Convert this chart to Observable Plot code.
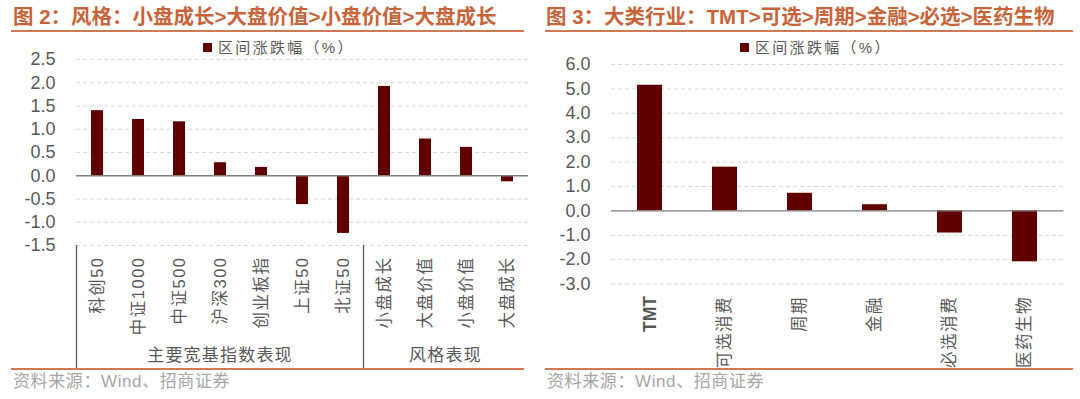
<!DOCTYPE html>
<html><head><meta charset="utf-8">
<script src="https://cdn.jsdelivr.net/npm/d3@7"></script>
<script src="https://cdn.jsdelivr.net/npm/@observablehq/plot@0.6"></script>
<style>
body{margin:0;background:#fff;}
#page{position:relative;width:1080px;height:399px;overflow:hidden;font-family:"Liberation Sans","Noto Sans CJK SC",sans-serif;background:#fff;}
.title{position:absolute;top:4px;font-size:20.5px;font-weight:bold;color:#C8643A;white-space:nowrap;line-height:26px;}
.uline{position:absolute;height:2px;background:#D07A55;}
.legend{position:absolute;top:39px;font-size:15px;color:#595959;letter-spacing:2.3px;white-space:nowrap;line-height:18px;}
.legend .sw{position:absolute;width:9px;height:9px;background:#600000;}
.src{position:absolute;top:372px;font-size:17px;color:#A6A6A6;white-space:nowrap;line-height:20px;letter-spacing:0.6px;}
.plot{position:absolute;}
</style></head>
<body>
<div id="page">
  <div class="title" style="left:13px;">图 2：风格：小盘成长&gt;大盘价值&gt;小盘价值&gt;大盘成长</div>
  <div class="uline" style="left:11px;width:513px;top:30px;"></div>
  <div class="legend" style="left:218px;"><span class="sw" style="left:-15px;top:4px;"></span>区间涨跌幅（%）</div>
  <div class="plot" id="left" style="left:0px;top:50px;"></div>
  <div class="uline" style="left:11px;width:513px;top:368px;"></div>
  <div class="src" style="left:13px;">资料来源：Wind、招商证券</div>

  <div class="title" style="left:546px;">图 3：大类行业：TMT&gt;可选&gt;周期&gt;金融&gt;必选&gt;医药生物</div>
  <div class="uline" style="left:545px;width:528px;top:30px;"></div>
  <div class="legend" style="left:755px;"><span class="sw" style="left:-15px;top:4px;"></span>区间涨跌幅（%）</div>
  <div class="plot" id="right" style="left:540px;top:55px;"></div>
  <div class="uline" style="left:545px;width:528px;top:368px;"></div>
  <div class="src" style="left:547px;">资料来源：Wind、招商证券</div>
</div>
<script>
// ---------- data ----------
const leftCategories = ["科创50","中证1000","中证500","沪深300","创业板指","上证50","北证50","小盘成长","大盘价值","小盘价值","大盘成长"];
const leftValues = [1.40, 1.21, 1.16, 0.28, 0.18, -0.62, -1.24, 1.92, 0.79, 0.61, -0.13];
const leftGroupOf = ["主要宽基指数表现","主要宽基指数表现","主要宽基指数表现","主要宽基指数表现","主要宽基指数表现","主要宽基指数表现","主要宽基指数表现","风格表现","风格表现","风格表现","风格表现"];
const leftTicks = [-1.5, -1.0, -0.5, 0.0, 0.5, 1.0, 1.5, 2.0, 2.5];

const rightCategories = ["TMT","可选消费","周期","金融","必选消费","医药生物"];
const rightValues = [5.15, 1.79, 0.72, 0.25, -0.91, -2.09];
const rightTicks = [-3, -2, -1, 0, 1, 2, 3, 4, 5, 6];

// ---------- styles ----------
const BAR = "#600000";
const GRID = "#D9D9D9";
const TXT = "#595959";
const FONT = '"Liberation Sans","Noto Sans CJK SC",sans-serif';

const leftData = leftCategories.map((c, i) => ({cat: c, val: leftValues[i], grp: leftGroupOf[i]}));
const rightData = rightCategories.map((c, i) => ({cat: c, val: rightValues[i]}));

function makeChart({data, cats, ticks, domain, width, height, mL, mR, mT, mB, padInner, xPad}) {
  return Plot.plot({
    width, height,
    marginLeft: mL, marginRight: mR, marginTop: mT, marginBottom: mB,
    style: {fontFamily: FONT, color: TXT, background: "transparent", overflow: "visible"},
    x: {domain: cats, paddingInner: padInner, paddingOuter: padInner / 2, label: null},
    y: {domain: domain, label: null},
    marks: [
      Plot.gridY(ticks, {stroke: GRID, strokeOpacity: 1, strokeDasharray: "4,3", strokeWidth: 1}),
      Plot.barY(data, {x: "cat", y: "val", fill: BAR}),
      Plot.ruleY([0], {stroke: "#808080", strokeWidth: 1.3}),
      Plot.axisY(ticks, {tickSize: 0, tickPadding: 21, tickFormat: d => d.toFixed(1), fontSize: 18, fill: TXT, label: null}),
      Plot.axisX({tickSize: 0, tickRotate: -90, tickPadding: xPad, fontSize: 16.5, fill: TXT, label: null})
    ]
  });
}

function spaceXLabels(svg) {
  d3.select(svg).selectAll('g[aria-label="x-axis tick label"] text').attr("letter-spacing", "1.5px");
}

// left chart
const leftSvg = makeChart({data: leftData, cats: leftCategories, ticks: leftTicks, domain: [-1.5, 2.5],
  width: 540, height: 319, mL: 76, mR: 12, mT: 9, mB: 124, padInner: 0.71, xPad: 11});
document.getElementById("left").appendChild(leftSvg);
spaceXLabels(leftSvg);

// group separators and group labels, positioned from the chart's own scales
{
  const sx = leftSvg.scale("x"), sy = leftSvg.scale("y");
  const svg = d3.select(leftSvg);
  const yb = sy.apply(-1.5);
  const edge = c => sx.apply(c) + sx.bandwidth / 2 - sx.step / 2;
  const groups = d3.groups(leftData, d => d.grp);
  const g = svg.append("g");
  groups.forEach(([name, rows]) => {
    const x0 = edge(rows[0].cat);
    const x1 = edge(rows[rows.length - 1].cat) + sx.step;
    g.append("line").attr("x1", x0).attr("x2", x0).attr("y1", yb).attr("y2", 319)
      .attr("stroke", "#595959").attr("stroke-width", 1.3);
    g.append("text").attr("x", (x0 + x1) / 2).attr("y", 307).attr("text-anchor", "middle")
      .attr("dominant-baseline", "middle").attr("fill", TXT).attr("font-size", 17)
      .attr("letter-spacing", "1.2px").attr("font-family", FONT).text(name);
  });
}

// right chart
const rightSvg = makeChart({data: rightData, cats: rightCategories, ticks: rightTicks, domain: [-3, 6],
  width: 540, height: 314, mL: 71, mR: 16.5, mT: 9, mB: 85.5, padInner: 0.67, xPad: 12});
document.getElementById("right").appendChild(rightSvg);
spaceXLabels(rightSvg);
d3.select(rightSvg).selectAll("text").filter(function() { return this.textContent === "TMT"; })
  .attr("font-weight", "bold").attr("font-size", 17.5).attr("letter-spacing", "0px");
</script>
</body></html>
